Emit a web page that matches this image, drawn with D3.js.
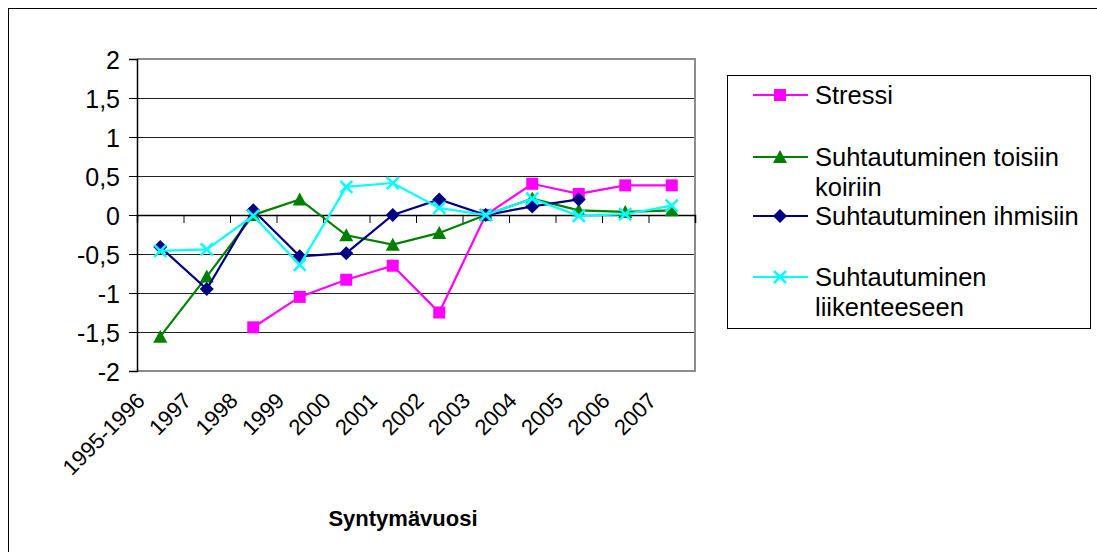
<!DOCTYPE html>
<html>
<head>
<meta charset="utf-8">
<script src="https://cdn.jsdelivr.net/npm/d3@7"></script>
<style>
  html, body { margin: 0; padding: 0; background: #fff; }
  svg { display: block; font-family: "Liberation Sans", Arial, sans-serif; }
</style>
</head>
<body>
<svg id="chart" width="1097" height="552"></svg>
<script>
const categories = ["1995-1996","1997","1998","1999","2000","2001","2002","2003","2004","2005","2006","2007"];
const stressi   = [null, null, -1.44, -1.05, -0.83, -0.65, -1.25, 0, 0.40, 0.27, 0.38, 0.38];
const koiriin   = [-1.56, -0.79, 0, 0.20, -0.26, -0.38, -0.23, 0, 0.21, 0.06, 0.04, 0.06];
const ihmisiin  = [-0.41, -0.95, 0.06, -0.53, -0.49, 0, 0.20, 0, 0.11, 0.20, null, null];
const liikenne  = [-0.46, -0.44, -0.01, -0.64, 0.36, 0.41, 0.09, 0, 0.21, -0.01, 0.01, 0.12];
const yTicks = [-2, -1.5, -1, -0.5, 0, 0.5, 1, 1.5, 2];
const seriesNames = [["Stressi"], ["Suhtautuminen toisiin", "koiriin"], ["Suhtautuminen ihmisiin"], ["Suhtautuminen", "liikenteeseen"]];
const xTitle = "Syntymävuosi";

const series = [
  {name: seriesNames[0], values: stressi, color: "#FF00FF", marker: "square"},
  {name: seriesNames[1], values: koiriin, color: "#008000", marker: "triangle"},
  {name: seriesNames[2], values: ihmisiin, color: "#000080", marker: "diamond"},
  {name: seriesNames[3], values: liikenne, color: "#00FFFF", marker: "x"}
];

const svg = d3.select("#chart");
const FS = 25;

// outer chart frame (extends beyond image on right/bottom)
svg.append("rect").attr("x", 8.5).attr("y", 8.5).attr("width", 1200).attr("height", 700)
  .attr("fill", "none").attr("stroke", "#000").attr("stroke-width", 1);

const L = 137, R = 695, T = 59, B = 371;
const x = d3.scaleBand().domain(categories).range([L, R]);
const xIdx = d3.scaleLinear().domain([0, categories.length]).range([L, R]);
const y = d3.scaleLinear().domain([-2, 2]).range([B, T]);
const cx = c => x(c) + x.bandwidth() / 2;

// gridlines
svg.append("g").selectAll("line").data(yTicks.filter(t => t > -2 && t < 2)).join("line")
  .attr("x1", L).attr("x2", R).attr("y1", d => Math.round(y(d)) + 0.5).attr("y2", d => Math.round(y(d)) + 0.5)
  .attr("stroke", "#222").attr("stroke-width", 1);

// plot border (grey) top/right/bottom
svg.append("path")
  .attr("d", `M${L},${y(2)}H${R}V${y(-2)}H${L}`)
  .attr("fill", "none").attr("stroke", "#8c8c8c").attr("stroke-width", 2);

// y axis
const yAxis = d3.axisLeft(y).tickValues(yTicks).tickSize(8).tickPadding(9)
  .tickFormat(d => String(d).replace(".", ","));
const gy = svg.append("g").attr("transform", `translate(${L},0)`).call(yAxis);
gy.select(".domain").attr("stroke", "#000").attr("stroke-width", 1.5);
gy.selectAll(".tick line").attr("stroke", "#000");
gy.selectAll("text").attr("font-size", FS).attr("fill", "#000")
  .attr("font-family", "'Liberation Sans', Arial, sans-serif").attr("dy", "0.36em");

// x axis at 0 with ticks between categories
const xAxis = d3.axisBottom(xIdx).tickValues(d3.range(categories.length + 1)).tickSize(8).tickFormat("");
const gx = svg.append("g").attr("transform", `translate(0,${y(0)})`).call(xAxis);
gx.select(".domain").attr("stroke", "#000").attr("stroke-width", 1.5);
gx.selectAll(".tick line").attr("stroke", "#000");

// x category labels rotated
svg.append("g").selectAll("text").data(categories).join("text")
  .attr("transform", d => `translate(${cx(d) - 14},${B + 31}) rotate(-45)`)
  .attr("text-anchor", "end")
  .attr("font-size", 22).attr("fill", "#000")
  .text(d => d);

// x title
svg.append("text").attr("x", 403).attr("y", 526).attr("text-anchor", "middle")
  .attr("font-size", 22).attr("font-weight", "bold").attr("fill", "#000").text(xTitle);

// marker drawing
function drawMarker(g, type, color) {
  const s = 6;
  if (type === "square") {
    g.append("rect").attr("x", -s).attr("y", -s).attr("width", 2 * s).attr("height", 2 * s).attr("fill", color);
  } else if (type === "triangle") {
    g.append("path").attr("d", `M0,${-s - 1}L${s + 1},${s}L${-s - 1},${s}Z`).attr("fill", color);
  } else if (type === "diamond") {
    g.append("path").attr("d", `M0,${-s - 1}L${s + 1},0L0,${s + 1}L${-s - 1},0Z`).attr("fill", color);
  } else if (type === "x") {
    g.append("path").attr("d", `M${-s},${-s}L${s},${s}M${-s},${s}L${s},${-s}`)
      .attr("stroke", color).attr("stroke-width", 2.5).attr("fill", "none");
  }
}

const line = d3.line().defined(d => d.v != null).x(d => cx(d.c)).y(d => y(d.v));

series.forEach(s => {
  const pts = categories.map((c, i) => ({c, v: s.values[i]}));
  const g = svg.append("g");
  g.append("path").datum(pts).attr("d", line).attr("fill", "none")
    .attr("stroke", s.color).attr("stroke-width", 2.2);
  pts.filter(p => p.v != null).forEach(p => {
    const mg = g.append("g").attr("transform", `translate(${cx(p.c)},${y(p.v)})`);
    drawMarker(mg, s.marker, s.color);
  });
});

// legend
const lg = svg.append("g");
lg.append("rect").attr("x", 727.5).attr("y", 75.5).attr("width", 363).attr("height", 253)
  .attr("fill", "#fff").attr("stroke", "#000").attr("stroke-width", 1);
const legY = [95, 157, 216, 277];
series.forEach((s, i) => {
  const g = lg.append("g").attr("transform", `translate(0,${legY[i]})`);
  g.append("line").attr("x1", 753).attr("x2", 808).attr("y1", 0).attr("y2", 0)
    .attr("stroke", s.color).attr("stroke-width", 2);
  const mg = g.append("g").attr("transform", "translate(780,0)");
  drawMarker(mg, s.marker, s.color);
  s.name.forEach((t, j) => {
    g.append("text").attr("x", 815).attr("y", j * 30).attr("dy", "0.36em")
      .attr("font-size", 25.5).attr("fill", "#000").text(t);
  });
});
</script>
</body>
</html>
